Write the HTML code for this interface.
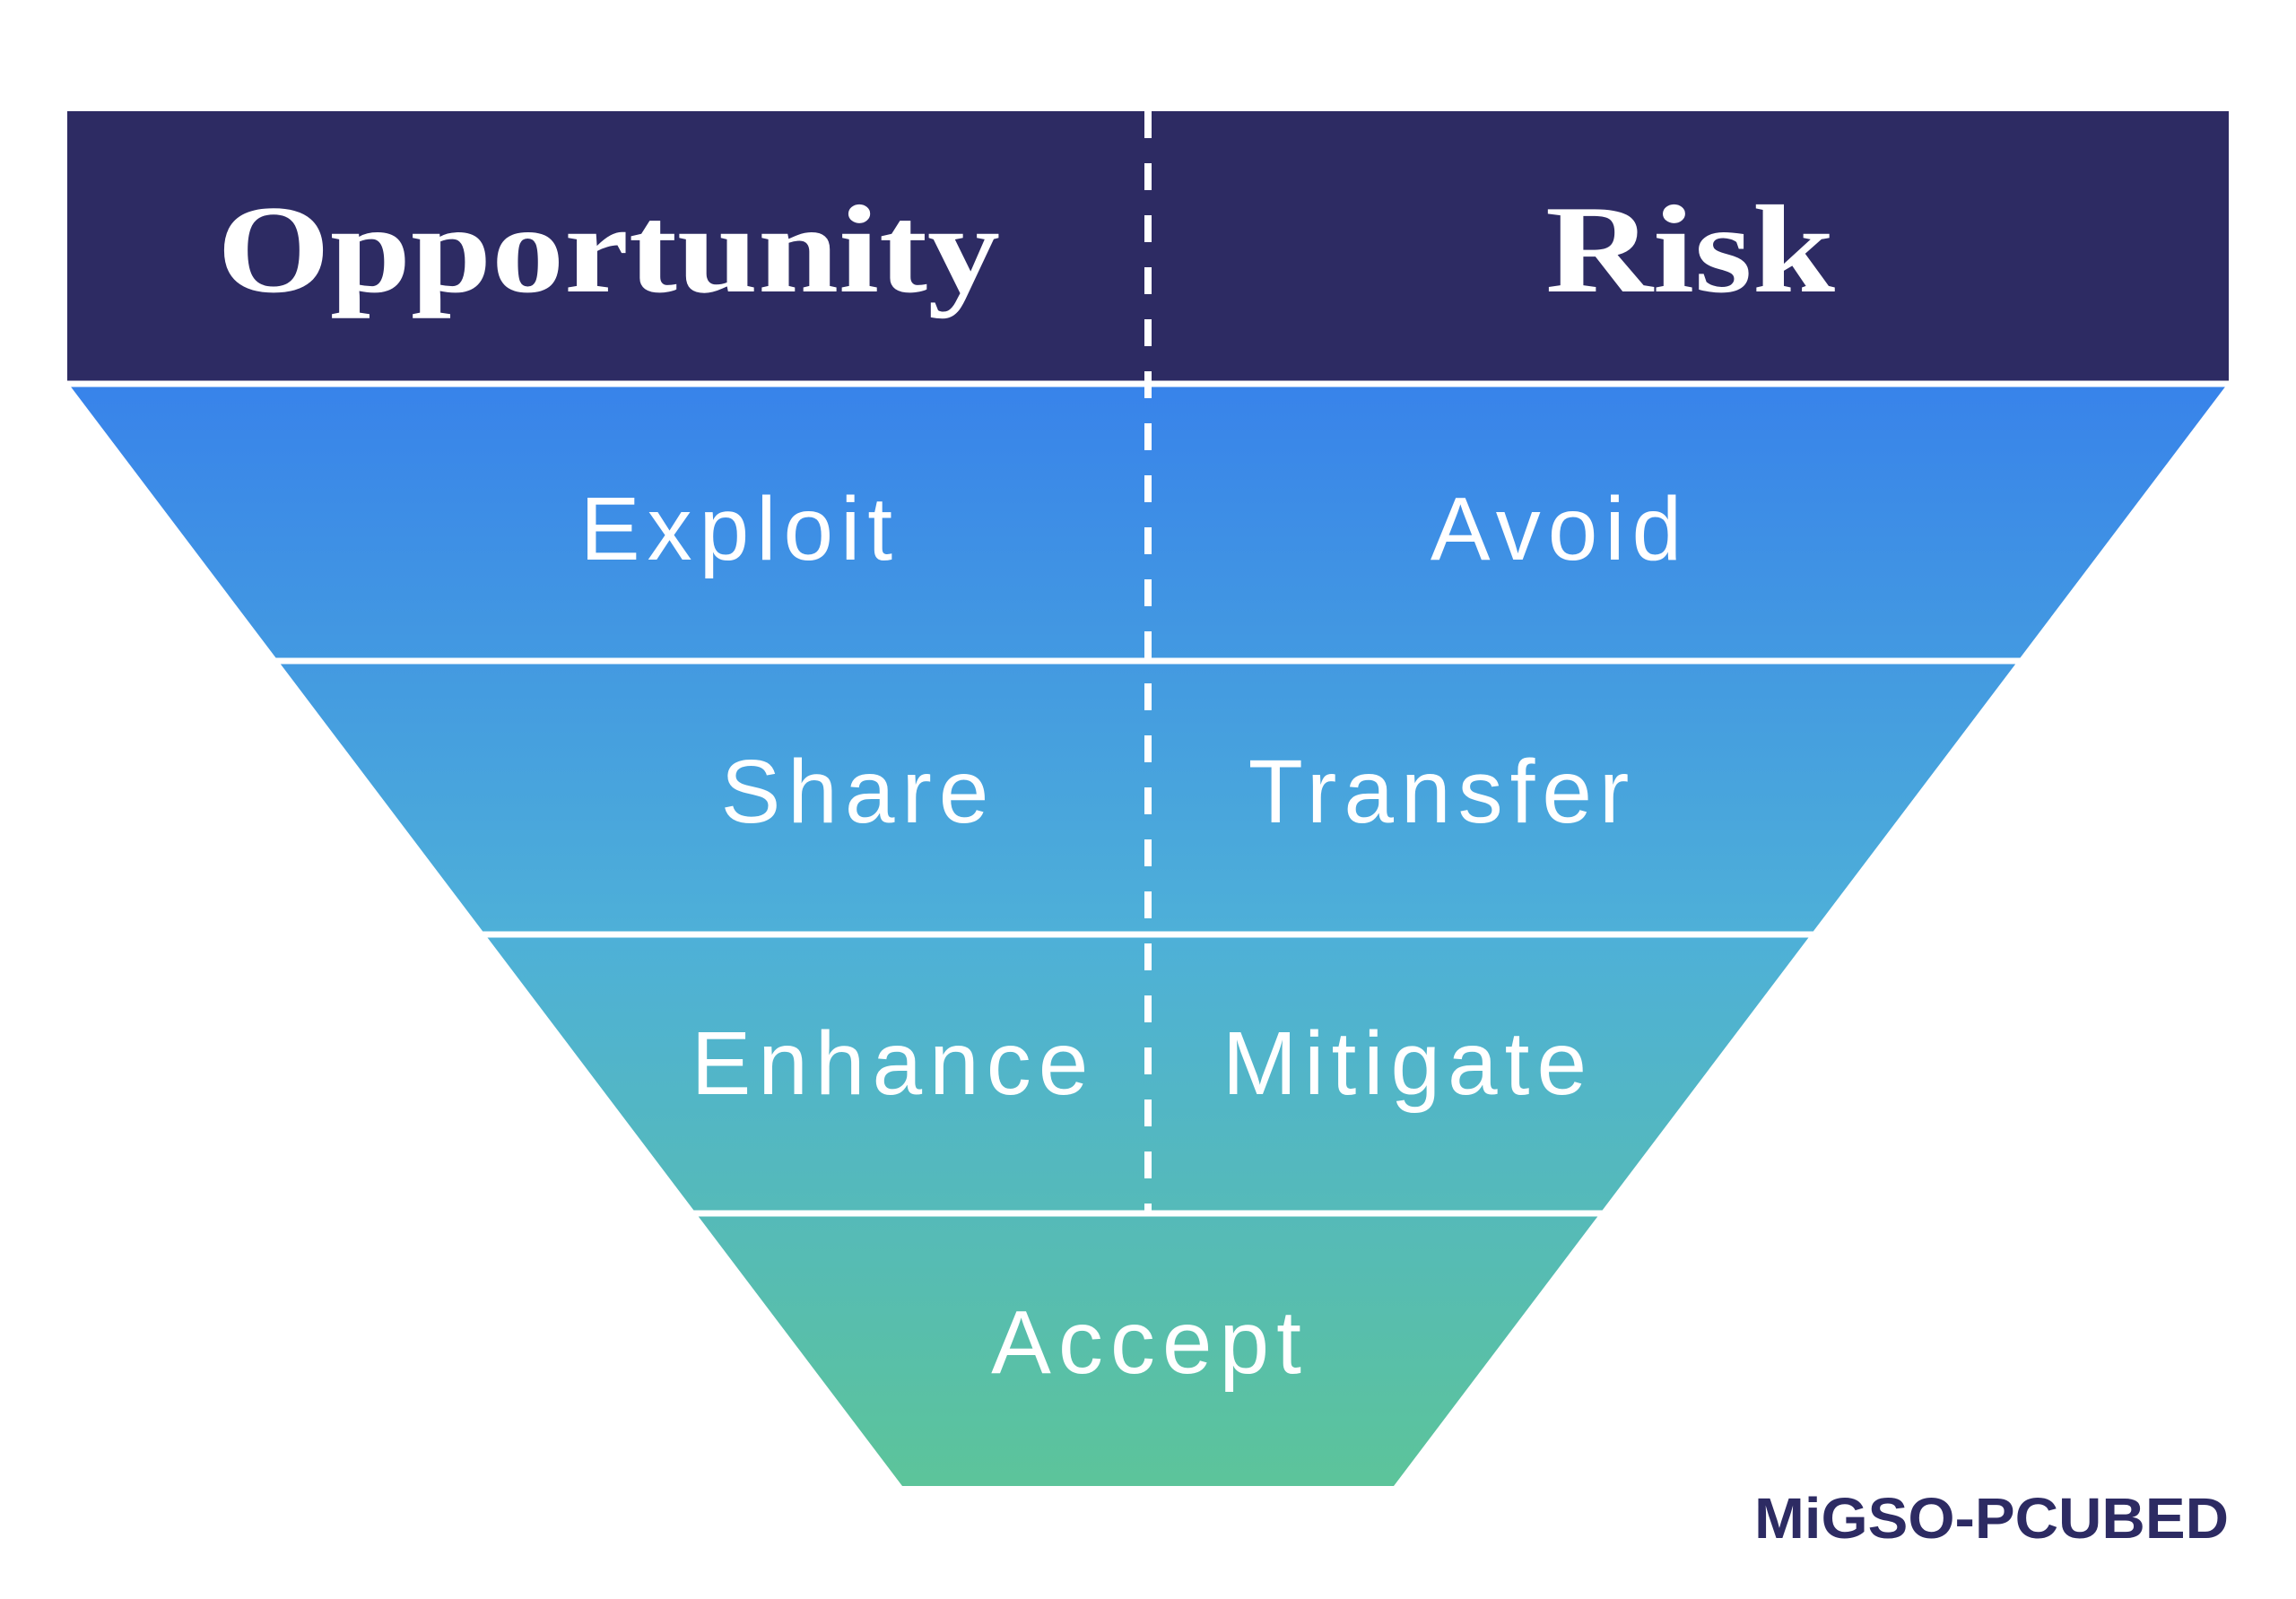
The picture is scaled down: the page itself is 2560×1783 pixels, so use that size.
<!DOCTYPE html>
<html><head><meta charset="utf-8"><style>
html,body{margin:0;padding:0;background:#fff;}
svg{display:block}
</style></head><body>
<svg width="2560" height="1783" viewBox="0 0 2560 1783" xmlns="http://www.w3.org/2000/svg">
<defs>
<linearGradient id="g" x1="0" y1="430" x2="0" y2="1657" gradientUnits="userSpaceOnUse">
<stop offset="0" stop-color="#3883ea"/>
<stop offset="0.5" stop-color="#4eb0d8"/>
<stop offset="1" stop-color="#5cc49a"/>
</linearGradient>
</defs>
<rect x="0" y="0" width="2560" height="1783" fill="#fff"/>
<rect x="75" y="124" width="2410" height="301" fill="#2d2b63"/>
<polygon points="78,430 2482,430 1554,1657 1006,1657" fill="url(#g)"/>
<g stroke="#fff" stroke-width="7">
<line x1="60" y1="428" x2="2500" y2="428"/>
<line x1="300" y1="737" x2="2260" y2="737"/>
<line x1="535" y1="1042" x2="2025" y2="1042"/>
<line x1="770" y1="1353" x2="1790" y2="1353"/>
</g>
<line x1="1280" y1="124" x2="1280" y2="1353" stroke="#fff" stroke-width="8" stroke-dasharray="30,28"/>
<g font-family="Liberation Serif, serif" font-weight="bold" fill="#fff">
<text x="242" y="325" font-size="140" textLength="873" lengthAdjust="spacingAndGlyphs">Opportunity</text>
<text x="1723" y="325" font-size="140" textLength="323" lengthAdjust="spacingAndGlyphs">Risk</text>
</g>
<g font-family="Liberation Sans, sans-serif" fill="#fff" text-anchor="middle" font-size="100" letter-spacing="8">
<text x="825" y="624">Exploit</text>
<text x="1739" y="624">Avoid</text>
<text x="957" y="917">Share</text>
<text x="1608" y="917">Transfer</text>
<text x="996" y="1220">Enhance</text>
<text x="1570" y="1220">Mitigate</text>
<text x="1282" y="1531">Accept</text>
</g>
<text x="1956" y="1715" font-family="Liberation Sans, sans-serif" font-weight="bold" font-size="64" fill="#2d2b63" textLength="529" lengthAdjust="spacingAndGlyphs">MiGSO-PCUBED</text>
</svg>
</body></html>
